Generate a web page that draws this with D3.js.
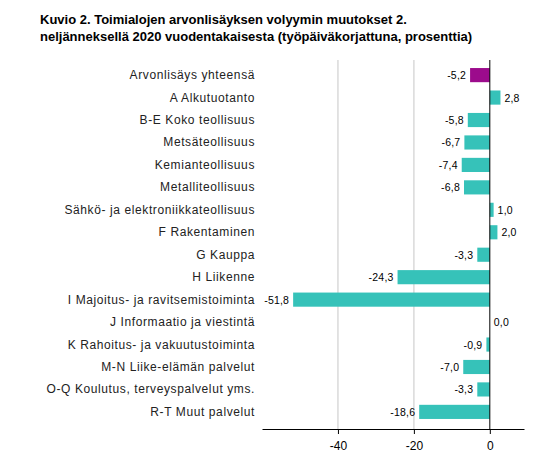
<!DOCTYPE html>
<html><head><meta charset="utf-8">
<script src="https://cdn.jsdelivr.net/npm/d3@7"></script>
<style>body{margin:0;background:#fff;font-family:"Liberation Sans",Arial,sans-serif}</style>
</head><body>
<script>
// data
var categories = ["Arvonlisäys yhteensä","A Alkutuotanto","B-E Koko teollisuus","Metsäteollisuus","Kemianteollisuus","Metalliteollisuus","Sähkö- ja elektroniikkateollisuus","F Rakentaminen","G Kauppa","H Liikenne","I Majoitus- ja ravitsemistoiminta","J Informaatio ja viestintä","K Rahoitus- ja vakuutustoiminta","M-N Liike-elämän palvelut","O-Q Koulutus, terveyspalvelut yms.","R-T Muut palvelut"];
var values = [-5.2,2.8,-5.8,-6.7,-7.4,-6.8,1.0,2.0,-3.3,-24.3,-51.8,0.0,-0.9,-7.0,-3.3,-18.6];
var tickValues = [-40,-20,0];

var svg = d3.select("body").append("svg").attr("width",544).attr("height",466);

svg.append("text").attr("x",40).attr("y",24).attr("font-size",13).attr("font-weight","bold")
  .text("Kuvio 2. Toimialojen arvonlisäyksen volyymin muutokset 2.");
svg.append("text").attr("x",40).attr("y",41).attr("font-size",13).attr("font-weight","bold")
  .text("neljänneksellä 2020 vuodentakaisesta (työpäiväkorjattuna, prosenttia)");

var x = d3.scaleLinear().domain([-60,9]).range([262,524]);
var y = d3.scaleBand().domain(categories).range([64,423]).paddingInner(0.37).paddingOuter(0.18);

// gridlines
svg.selectAll("line.grid").data(tickValues.filter(function(d){return d!==0;})).enter().append("line")
  .attr("x1",function(d){return x(d);}).attr("x2",function(d){return x(d);})
  .attr("y1",60).attr("y2",429).attr("stroke","#d9d9d9").attr("stroke-width",1.5);

svg.selectAll("rect.bar").data(values).enter().append("rect")
  .attr("x",function(d){return x(Math.min(0,d));})
  .attr("width",function(d){return Math.abs(x(d)-x(0));})
  .attr("y",function(d,i){return y(categories[i]);})
  .attr("height",y.bandwidth())
  .attr("fill",function(d,i){return i===0?"#9c0b8c":"#36c2b9";});

svg.append("line").attr("x1",x(0)).attr("x2",x(0)).attr("y1",60).attr("y2",429).attr("stroke","#000");

// value labels
svg.selectAll("text.val").data(values).enter().append("text")
  .attr("x",function(d){return d<0?x(d)-4:x(d)+4;})
  .attr("y",function(d,i){return y(categories[i])+y.bandwidth()/2+4;})
  .attr("text-anchor",function(d){return d<0?"end":"start";})
  .attr("font-size",10.5).attr("letter-spacing","0.2px")
  .text(function(d){return d.toFixed(1).replace(".",",");});

// category labels
svg.selectAll("text.cat").data(categories).enter().append("text")
  .attr("x",255).attr("y",function(d){return y(d)+y.bandwidth()/2+4;})
  .attr("text-anchor","end").attr("font-size",12).attr("letter-spacing","0.6px").attr("fill","#222")
  .text(function(d){return d;});

var axis = svg.append("g").attr("transform","translate(0,429)")
  .call(d3.axisBottom(x).tickValues(tickValues).tickSize(5).tickSizeOuter(0).tickFormat(function(d){return String(d);}));
axis.select(".domain").attr("stroke","#000");
axis.selectAll("text").attr("font-size",12).attr("dy","1.1em").attr("font-family","Liberation Sans, Arial, sans-serif");
</script>
</body></html>
